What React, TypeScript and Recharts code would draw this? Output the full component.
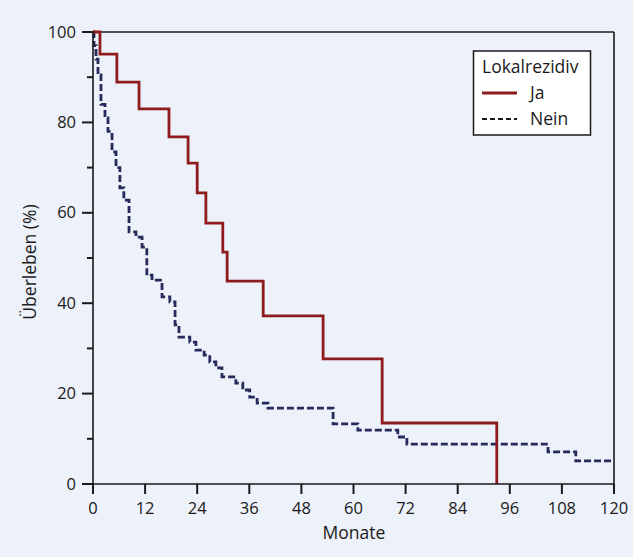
import { Line, LineChart, ReferenceLine, XAxis, YAxis, Customized } from "recharts";

// Kaplan-Meier steps: [Monate, Überleben %]
const jaMonths = [0, 1.6, 5.5, 10.6, 17.5, 21.9, 24.0, 26.0, 29.9, 30.9, 39.2, 53.0, 66.6, 93.0];
const jaSurvival = [100, 95.1, 88.9, 83.0, 76.8, 71.0, 64.4, 57.7, 51.3, 44.9, 37.2, 27.7, 13.5, 0];

const neinMonths = [
  0, 0.23, 0.69, 1.15, 1.84, 2.76, 3.45, 4.38, 5.3, 6.2, 7.1, 8.3, 9.9, 11.3, 12.4, 13.6, 15.9, 17.7,
  18.9, 19.8, 22.3, 23.7, 25.6, 26.9, 28.3, 29.7, 32.9, 34.5, 36.1, 37.8, 40.3, 55.3, 61.0, 70.2, 72.3,
  104.8, 111.2, 120,
];
const neinSurvival = [
  100, 97, 94, 90.5, 84, 81, 78, 73.5, 70, 65.5, 62.8, 55.8, 54.6, 52.4, 46.2, 45.1, 41.4, 40.3, 35.2,
  32.5, 31.4, 29.6, 28.5, 27, 25.7, 23.7, 22.3, 20.8, 19.2, 17.9, 16.8, 13.3, 11.9, 10.4, 8.8, 7.1, 5.1,
  5.1,
];

const monthTicks = [0, 12, 24, 36, 48, 60, 72, 84, 96, 108, 120];
const percentTicks = [0, 10, 20, 30, 40, 50, 60, 70, 80, 90, 100];

const jaData = jaMonths.map((m, i) => ({ month: m, value: jaSurvival[i] }));
const neinData = neinMonths.map((m, i) => ({ month: m, value: neinSurvival[i] }));

const FONT = "'Open Sans', sans-serif";
const INK = "#1a1a1a";
const RED = "#8e1c1c";
const NAVY = "#262b5c";
const BG = "#edf1f9";

function YTick({ x, y, payload }: any) {
  const major = payload.value % 20 === 0;
  return (
    <g>
      <line x1={x - (major ? 11 : 6)} x2={x} y1={y} y2={y} stroke={INK} strokeWidth={2} />
      {major && (
        <text x={x - 17} y={y} dy={5.5} textAnchor="end" fontFamily={FONT} fontSize={16.5} fill={INK}>
          {payload.value}
        </text>
      )}
    </g>
  );
}

function XTick({ x, y, payload }: any) {
  return (
    <text x={x} y={y + 20} textAnchor="middle" fontFamily={FONT} fontSize={16.5} fill={INK}>
      {payload.value}
    </text>
  );
}

// axis titles and the legend box
function Annotations() {
  return (
    <g fontFamily={FONT} fontSize={17.5} fill={INK}>
      <text x={354} y={539} textAnchor="middle">
        Monate
      </text>
      <text x={36} y={262} textAnchor="middle" transform="rotate(-90 36 262)">
        Überleben (%)
      </text>
      <rect x={473.5} y={51} width={117} height={84} fill="#ffffff" stroke={INK} strokeWidth={1.5} />
      <text x={482} y={73}>Lokalrezidiv</text>
      <line x1={482} x2={517} y1={93} y2={93} stroke={RED} strokeWidth={2.8} />
      <text x={530} y={99}>Ja</text>
      <line x1={482} x2={517} y1={119} y2={119} stroke={INK} strokeWidth={2} strokeDasharray="5 3" />
      <text x={530} y={125}>Nein</text>
    </g>
  );
}

export default function App() {
  return (
    <div style={{ position: "fixed", left: 0, top: 0, width: 633, height: 557, background: BG }}>
      <LineChart width={633} height={557} margin={{ top: 32, right: 19, left: 0, bottom: 0 }}>
        <XAxis
          dataKey="month"
          type="number"
          domain={[0, 120]}
          ticks={monthTicks}
          allowDuplicatedCategory={false}
          height={73}
          tickSize={10}
          tickMargin={0}
          tickLine={{ stroke: INK, strokeWidth: 2 }}
          axisLine={{ stroke: INK, strokeWidth: 1.6 }}
          tick={<XTick />}
        />
        <YAxis
          dataKey="value"
          type="number"
          domain={[0, 100]}
          ticks={percentTicks}
          width={93}
          tickSize={0}
          tickMargin={0}
          tickLine={false}
          axisLine={{ stroke: INK, strokeWidth: 1.6 }}
          tick={<YTick />}
        />
        <ReferenceLine y={100} stroke={INK} strokeWidth={1.6} />
        <ReferenceLine x={120} stroke={INK} strokeWidth={1.6} />
        <Line
          data={neinData}
          dataKey="value"
          type="stepAfter"
          stroke={NAVY}
          strokeWidth={2.8}
          strokeDasharray="7 3"
          dot={false}
          isAnimationActive={false}
        />
        <Line
          data={jaData}
          dataKey="value"
          type="stepAfter"
          stroke={RED}
          strokeWidth={2.8}
          dot={false}
          isAnimationActive={false}
        />
        <Customized component={Annotations} />
      </LineChart>
    </div>
  );
}
